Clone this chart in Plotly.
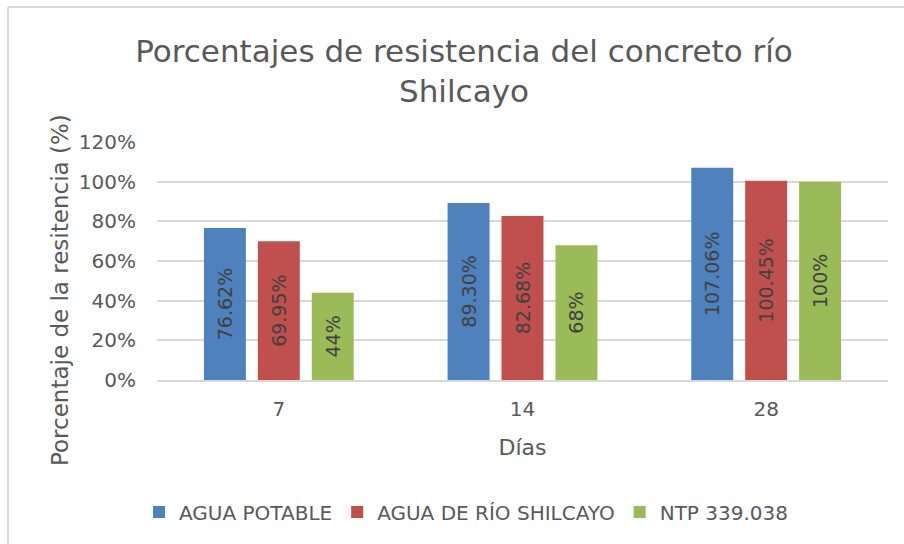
import plotly.graph_objects as go

categorias = ["7", "14", "28"]
agua_potable = [0.7662, 0.8930, 1.0706]
agua_rio = [0.6995, 0.8268, 1.0045]
ntp = [0.44, 0.68, 1.00]
etiquetas_potable = ["76.62%", "89.30%", "107.06%"]
etiquetas_rio = ["69.95%", "82.68%", "100.45%"]
etiquetas_ntp = ["44%", "68%", "100%"]
nombres = ["AGUA POTABLE", "AGUA DE RÍO SHILCAYO", "NTP 339.038"]
colores = ["#4F81BD", "#C0504D", "#9BBB59"]

FONT = "DejaVu Sans, sans-serif"
TXT = "#595959"

fig = go.Figure()
for vals, labs, name, col in zip([agua_potable, agua_rio, ntp],
                                 [etiquetas_potable, etiquetas_rio, etiquetas_ntp],
                                 nombres, colores):
    fig.add_trace(go.Bar(
        x=categorias, y=vals, name=name, text=labs,
        textposition="inside", textangle=-90, insidetextanchor="middle",
        textfont=dict(family=FONT, size=19, color="#404040"),
        marker=dict(color=col, line=dict(width=0)),
        hoverinfo="skip",
    ))

W, H = 904, 544
L, R, T, B = 157, 16, 142, 164
pw, ph = W - L - R, H - T - B

def px_x(p):
    return (p - L) / pw

def px_y(p):
    return (H - B - p) / ph

fig.update_layout(
    width=W, height=H,
    margin=dict(l=L, r=R, t=T, b=B, autoexpand=False),
    paper_bgcolor="white", plot_bgcolor="white",
    font=dict(family=FONT, color=TXT),
    barmode="group", bargap=0.336, bargroupgap=0.222,
    title=dict(text="Porcentajes de resistencia del concreto río<br>Shilcayo",
               x=464 / W, xanchor="center", y=1 - 62 / H, yanchor="middle",
               font=dict(family=FONT, size=31, color=TXT)),
    xaxis=dict(type="category", showgrid=False, showline=True, linecolor="#D9D9D9",
               linewidth=2, ticks="", tickfont=dict(size=20, color=TXT), automargin=False,
               ticklabelstandoff=10,
               title=dict(text="Días", font=dict(size=22, color=TXT), standoff=20)),
    yaxis=dict(range=[0, 1.2], dtick=0.2, tickformat=".0%", showgrid=True,
               gridcolor="#D9D9D9", gridwidth=2, zeroline=False, showline=False,
               tickfont=dict(size=20, color=TXT), ticks="", ticklabelstandoff=20,
               automargin=False),
    annotations=[dict(text="Porcentaje de la resitencia (%)", textangle=-90,
                      xref="paper", yref="paper", x=px_x(60), y=px_y(290),
                      xanchor="center", yanchor="middle", showarrow=False,
                      font=dict(family=FONT, size=23, color=TXT))],
    legend=dict(orientation="h", x=px_x(466), xanchor="center", y=px_y(512), yanchor="middle",
                font=dict(size=20, color=TXT), itemwidth=30, traceorder="normal"),
    showlegend=True,
    shapes=[
        dict(type="line", xref="paper", yref="paper", x0=px_x(8), x1=px_x(904), y0=px_y(7), y1=px_y(7),
             line=dict(color="#D9D9D9", width=2)),
        dict(type="line", xref="paper", yref="paper", x0=px_x(8), x1=px_x(8), y0=px_y(7), y1=px_y(544),
             line=dict(color="#D9D9D9", width=2)),
    ],
)

fig.write_html("out.html", config={"displayModeBar": False},
               post_script="document.body.style.margin='0';document.body.style.overflow='hidden';")
